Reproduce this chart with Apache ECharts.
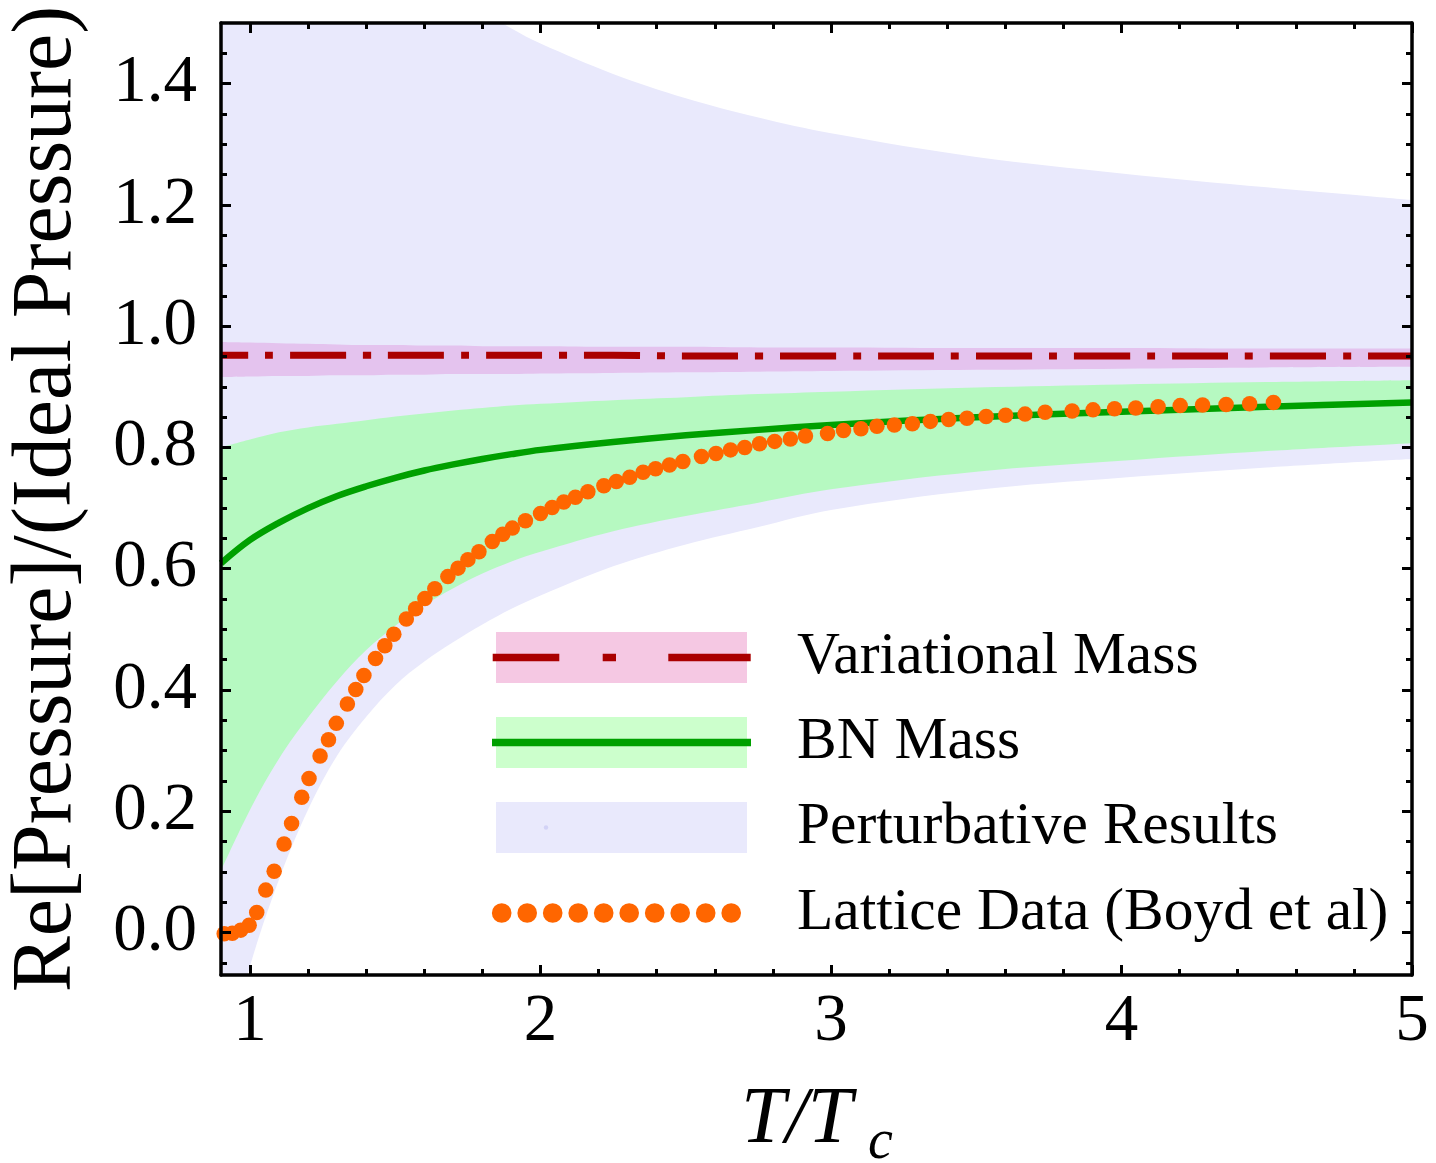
<!DOCTYPE html>
<html><head><meta charset="utf-8">
<script src="https://cdn.jsdelivr.net/npm/echarts@6/dist/echarts.min.js"></script>
<style>html,body{margin:0;padding:0;background:#fff}#c{width:1436px;height:1163px}</style>
</head><body><div id="c"></div>
<script>
// ---- data ----
const T = [0.9, 1.0, 1.1, 1.2, 1.3, 1.4, 1.5, 1.6, 1.7, 1.8, 1.9, 2.0, 2.25, 2.5, 2.75, 3.0, 3.5, 4.0, 4.5, 5.0];
const pertHi = [3.1, 2.7, 2.35, 2.1, 1.92, 1.79, 1.69, 1.615, 1.555, 1.52, 1.491, 1.466, 1.416, 1.376, 1.344, 1.318, 1.279, 1.252, 1.229, 1.208];
const pertLo = [-0.24, -0.055, 0.088, 0.203, 0.292, 0.356, 0.408, 0.447, 0.479, 0.508, 0.534, 0.556, 0.604, 0.640, 0.669, 0.697, 0.730, 0.750, 0.767, 0.781];
const bnHi = [0.800, 0.813, 0.825, 0.833, 0.839, 0.845, 0.851, 0.856, 0.861, 0.865, 0.869, 0.872, 0.878, 0.883, 0.888, 0.892, 0.899, 0.904, 0.908, 0.911];
const bnMid = [0.609, 0.6475, 0.676, 0.700, 0.720, 0.736, 0.750, 0.762, 0.772, 0.781, 0.789, 0.796, 0.809, 0.820, 0.829, 0.837, 0.850, 0.859, 0.867, 0.874];
const bnLo = [0.102, 0.2025, 0.287, 0.355, 0.415, 0.466, 0.506, 0.540, 0.568, 0.592, 0.612, 0.628, 0.662, 0.687, 0.709, 0.731, 0.760, 0.778, 0.794, 0.807];
const varHi = [0.974, 0.973, 0.972, 0.971, 0.970, 0.969, 0.969, 0.968, 0.968, 0.967, 0.967, 0.967, 0.966, 0.966, 0.965, 0.965, 0.964, 0.964, 0.963, 0.963];
const varMid = [0.952, 0.952, 0.952, 0.952, 0.952, 0.952, 0.952, 0.952, 0.952, 0.952, 0.952, 0.952, 0.952, 0.951, 0.951, 0.951, 0.951, 0.951, 0.951, 0.951];
const varLo = [0.916, 0.917, 0.918, 0.918, 0.919, 0.919, 0.920, 0.920, 0.921, 0.921, 0.921, 0.922, 0.923, 0.924, 0.925, 0.926, 0.928, 0.930, 0.932, 0.933];
const latticeT = [0.911,0.939,0.968,0.997,1.023,1.054,1.083,1.117,1.143,1.178,1.203,1.241,1.270,1.297,1.335,1.364,1.392,1.432,1.464,1.495,1.538,1.570,1.602,1.636,1.681,1.716,1.750,1.788,1.834,1.870,1.903,1.948,2.000,2.040,2.080,2.120,2.163,2.218,2.261,2.307,2.353,2.396,2.444,2.490,2.554,2.604,2.654,2.703,2.754,2.806,2.860,2.912,2.988,3.043,3.103,3.158,3.218,3.280,3.342,3.405,3.468,3.534,3.601,3.668,3.737,3.830,3.902,3.976,4.049,4.126,4.202,4.279,4.360,4.441,4.523];
const latticeP = [-0.002,-0.001,0.004,0.012,0.033,0.070,0.101,0.146,0.180,0.223,0.254,0.291,0.318,0.345,0.377,0.401,0.424,0.452,0.473,0.492,0.517,0.534,0.551,0.567,0.587,0.601,0.615,0.628,0.645,0.657,0.667,0.679,0.691,0.701,0.710,0.718,0.727,0.737,0.744,0.751,0.759,0.765,0.771,0.777,0.785,0.790,0.796,0.800,0.806,0.810,0.814,0.819,0.823,0.828,0.831,0.835,0.837,0.839,0.843,0.846,0.848,0.851,0.853,0.855,0.858,0.860,0.862,0.864,0.865,0.867,0.869,0.870,0.871,0.872,0.874];
const xMajor = [1, 2, 3, 4, 5];
const xMinor = [1.2, 1.4, 1.6, 1.8, 2.2, 2.4, 2.6, 2.8, 3.2, 3.4, 3.6, 3.8, 4.2, 4.4, 4.6, 4.8];
const yMajor = [0, 0.2, 0.4, 0.6, 0.8, 1.0, 1.2, 1.4];
const yMinor = [-0.05, 0.05, 0.1, 0.15, 0.25, 0.3, 0.35, 0.45, 0.5, 0.55, 0.65, 0.7, 0.75, 0.85, 0.9, 0.95, 1.05, 1.1, 1.15, 1.25, 1.3, 1.35, 1.45];
const legendNames = ['Variational Mass', 'BN Mass', 'Perturbative Results', 'Lattice Data (Boyd et al)'];
const xTitle = ['T/T', 'c'];
const yTitle = 'Re[Pressure]/(Ideal Pressure)';

// ---- styles ----
const SERIF = '"Liberation Serif", "Times New Roman", serif';
const C = {
  pert: '#E9E9FC', bnBand: '#B6F9C1', varBand: '#E4C3EE', bg: '#FFFFFF',
  bnLine: '#00A000', varLine: '#AA0000', lattice: '#FF6600',
  legPink: '#F5C8E3', legGreen: '#CCFFCC', legLav: '#E9E9FC'
};
const XMIN = 0.9, XMAX = 5, YMIN = -0.07, YMAX = 1.5;
const SMOOTH = 0.35;

// Band edges are painted as filled areas down to the axis bottom, layered top-down,
// so each band shows between its upper and lower boundary.
function fillUnder(id, vals, color) {
  return { type: 'line', id: id, data: T.map((x, i) => [x, vals[i]]), symbol: 'none', smooth: SMOOTH,
    lineStyle: { opacity: 0, width: 0 }, areaStyle: { color: color, opacity: 1, origin: 'start' }, silent: true, z: 2 };
}

function xAx(pos, ticks, len, showLine, labels) {
  return {
    type: 'value', position: pos, min: XMIN, max: XMAX, z: 10,
    axisLine: { show: showLine, onZero: false, lineStyle: { color: '#000', width: 3.5 } },
    axisTick: { show: true, inside: true, length: len, customValues: ticks, lineStyle: { color: '#000', width: 3 } },
    axisLabel: labels ? { show: true, customValues: xMajor, fontFamily: SERIF, fontSize: 67, color: '#000', margin: 14 } : { show: false },
    splitLine: { show: false }, minorTick: { show: false }
  };
}
function yAx(pos, ticks, len, showLine, labels) {
  return {
    type: 'value', position: pos, min: YMIN, max: YMAX, z: 10,
    axisLine: { show: showLine, onZero: false, lineStyle: { color: '#000', width: 3.5 } },
    axisTick: { show: true, inside: true, length: len, customValues: ticks, lineStyle: { color: '#000', width: 3 } },
    axisLabel: labels ? { show: true, customValues: yMajor, fontFamily: SERIF, fontSize: 67, color: '#000', margin: 24,
      formatter: v => Number(v).toFixed(1) } : { show: false },
    splitLine: { show: false }, minorTick: { show: false },
    name: labels ? yTitle : '', nameLocation: 'middle', nameGap: 131,
    nameTextStyle: { fontFamily: SERIF, fontSize: 84, color: '#000' }
  };
}

// ---- legend (drawn with graphic elements) ----
const LX = 496, LW = 251, LH = 51;
const rows = [657.5, 742.5, 827.5, 913];
const g = [];
g.push({ type: 'rect', shape: { x: LX, y: rows[0] - 25.5, width: LW, height: LH }, style: { fill: C.legPink } });
g.push({ type: 'line', shape: { x1: 492.7, y1: rows[0], x2: 750.7, y2: rows[0] },
  style: { stroke: C.varLine, lineWidth: 7.5, lineDash: [66.6, 43.4, 13.3, 52.3, 82.4, 10] } });
g.push({ type: 'rect', shape: { x: LX, y: rows[1] - 25.5, width: LW, height: LH }, style: { fill: C.legGreen } });
g.push({ type: 'line', shape: { x1: 492, y1: rows[1], x2: 751, y2: rows[1] }, style: { stroke: C.bnLine, lineWidth: 7.5 } });
g.push({ type: 'rect', shape: { x: LX, y: rows[2] - 25.5, width: LW, height: LH }, style: { fill: C.legLav } });
g.push({ type: 'circle', shape: { cx: 546, cy: rows[2], r: 2.2 }, style: { fill: '#D2D2F6' } });
for (let i = 0; i < 10; i++) {
  g.push({ type: 'circle', shape: { cx: 501.7 + i * 25.5, cy: rows[3], r: 9.8 }, style: { fill: C.lattice } });
}
legendNames.forEach((t, i) => {
  g.push({ type: 'text', x: 797, y: rows[i], style: { text: t, font: '59.5px ' + SERIF, fill: '#000',
    textAlign: 'left', textVerticalAlign: 'middle', align: 'left', verticalAlign: 'middle' } });
});
// x-axis title
g.push({ type: 'text', x: 741, y: 1121, style: { text: xTitle[0], font: 'italic 80px ' + SERIF, fill: '#000',
  textAlign: 'left', textVerticalAlign: 'middle', align: 'left', verticalAlign: 'middle' } });
g.push({ type: 'text', x: 868, y: 1143, style: { text: xTitle[1], font: 'italic 56px ' + SERIF, fill: '#000',
  textAlign: 'left', textVerticalAlign: 'middle', align: 'left', verticalAlign: 'middle' } });
g.forEach(e => { e.z = 100; e.silent = true; });

const option = {
  animation: false,
  backgroundColor: '#fff',
  grid: { left: 221, right: 24, top: 23, bottom: 188, containLabel: false, outerBoundsMode: 'none' },
  xAxis: [
    xAx('bottom', xMajor, 10, true, true),
    xAx('bottom', xMinor, 6, false, false),
    xAx('top', xMajor, 10, true, false),
    xAx('top', xMinor, 6, false, false)
  ],
  yAxis: [
    yAx('left', yMajor, 10, true, true),
    yAx('left', yMinor, 6, false, false),
    yAx('right', yMajor, 10, true, false),
    yAx('right', yMinor, 6, false, false)
  ],
  series: [
    fillUnder('pertHi', pertHi, C.pert),
    fillUnder('varHi', varHi, C.varBand),
    fillUnder('varLo', varLo, C.pert),
    fillUnder('bnHi', bnHi, C.bnBand),
    fillUnder('bnLo', bnLo, C.pert),
    fillUnder('pertLo', pertLo, C.bg),
    { type: 'line', name: 'BN Mass', data: T.map((x, i) => [x, bnMid[i]]), symbol: 'none', smooth: SMOOTH,
      lineStyle: { color: C.bnLine, width: 6.5 }, z: 3 },
    { type: 'line', name: 'Variational Mass', data: T.map((x, i) => [x, varMid[i]]), symbol: 'none', smooth: SMOOTH,
      lineStyle: { color: C.varLine, width: 7, type: [56, 17, 8, 17], dashOffset: 29, cap: 'butt' }, z: 3 },
    { type: 'scatter', name: 'Lattice Data (Boyd et al)', data: latticeT.map((x, i) => [x, latticeP[i]]),
      symbol: 'circle', symbolSize: 15.5, itemStyle: { color: C.lattice, opacity: 1 }, z: 4 }
  ],
  graphic: g
};
const chart = echarts.init(document.getElementById('c'), null, { renderer: 'canvas' });
chart.setOption(option);
</script>
</body></html>
